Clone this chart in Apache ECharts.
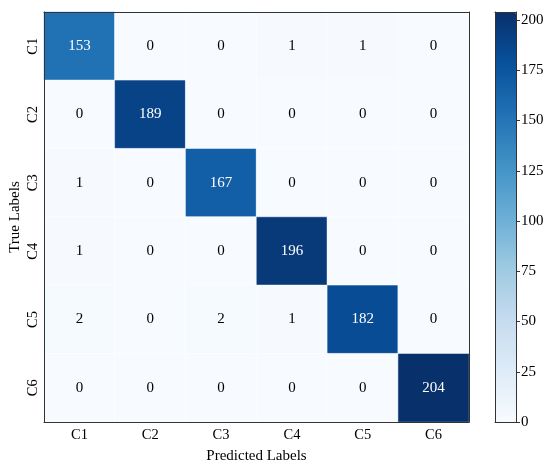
<!DOCTYPE html>
<html>
<head>
<meta charset="utf-8">
<script src="https://cdn.jsdelivr.net/npm/echarts@6/dist/echarts.min.js"></script>
<style>
  html, body { margin: 0; padding: 0; background: #fff; }
  #chart { width: 550px; height: 468px; }
</style>
</head>
<body>
<div id="chart"></div>
<script>
// rows = true label, columns = predicted label
const trueLabels = ['C1', 'C2', 'C3', 'C4', 'C5', 'C6'];
const predLabels = ['C1', 'C2', 'C3', 'C4', 'C5', 'C6'];
const matrix = [
    [153, 0, 0, 1, 1, 0],
    [0, 189, 0, 0, 0, 0],
    [1, 0, 167, 0, 0, 0],
    [1, 0, 0, 196, 0, 0],
    [2, 0, 2, 1, 182, 0],
    [0, 0, 0, 0, 0, 204]
];
const colorbarMax = 204;
const colorbarStep = 25;

// matplotlib "Blues"
const blues = ['#f7fbff', '#deebf7', '#c6dbef', '#9ecae1', '#6baed6',
               '#4292c6', '#2171b5', '#08519c', '#08306b'];
const font = 'Liberation Serif';
const edge = '#333';

var data = [];
for (var r = 0; r < matrix.length; r++) {
    for (var c = 0; c < matrix[r].length; c++) {
        var v = matrix[r][c];
        data.push({
            value: [c, r, v],
            label: { color: v > colorbarMax / 2 ? '#fff' : '#000' }
        });
    }
}

var frameAxis = function(type, gridIndex, position, extra) {
    return Object.assign({
        type: type,
        gridIndex: gridIndex,
        position: position,
        axisLine: { show: true, onZero: false, lineStyle: { color: edge } },
        axisTick: { show: false },
        axisLabel: { show: false },
        splitLine: { show: false },
        z: 20
    }, extra || {});
};

var myChart = echarts.init(document.getElementById('chart'));

var option = {
    animation: false,
    textStyle: { fontFamily: font },
    grid: [
        { left: 44, top: 12, width: 425, height: 410, outerBoundsMode: 'none' },
        { left: 495, top: 12, width: 21, height: 410, outerBoundsMode: 'none' }
    ],
    xAxis: [{
        type: 'category',
        data: predLabels,
        gridIndex: 0,
        position: 'bottom',
        name: 'Predicted Labels',
        nameLocation: 'middle',
        nameGap: 27,
        nameMoveOverlap: false,
        nameTextStyle: { fontFamily: font, fontSize: 15, color: '#000' },
        axisLine: { lineStyle: { color: edge } },
        axisTick: { alignWithLabel: true, length: 4, lineStyle: { color: edge } },
        axisLabel: { fontFamily: font, fontSize: 14.5, color: '#000', margin: 6 },
        splitLine: { show: false },
        z: 20
    },
    frameAxis('category', 0, 'top', { data: predLabels }),
    frameAxis('value', 1, 'bottom', { min: 0, max: 1 }),
    frameAxis('value', 1, 'top', { min: 0, max: 1 })
    ],
    yAxis: [{
        type: 'category',
        data: trueLabels,
        gridIndex: 0,
        inverse: true,
        name: 'True Labels',
        nameLocation: 'middle',
        nameRotate: 90,
        nameGap: 21,
        nameMoveOverlap: false,
        nameTextStyle: { fontFamily: font, fontSize: 15, color: '#000' },
        axisLine: { lineStyle: { color: edge } },
        axisTick: { alignWithLabel: true, length: 4, lineStyle: { color: edge } },
        axisLabel: { fontFamily: font, fontSize: 14.5, color: '#000', rotate: 90, margin: 3 },
        splitLine: { show: false },
        z: 20
    },
    frameAxis('category', 0, 'right', { data: trueLabels, inverse: true }),
    {
        type: 'value',
        gridIndex: 1,
        position: 'right',
        min: 0,
        max: colorbarMax,
        interval: colorbarStep,
        axisLine: { show: true, onZero: false, lineStyle: { color: edge } },
        axisTick: { show: true, length: 4, lineStyle: { color: edge } },
        axisLabel: { fontFamily: font, fontSize: 15, color: '#000', margin: 5, showMaxLabel: false },
        splitLine: { show: false },
        z: 20
    },
    frameAxis('value', 1, 'left', { min: 0, max: colorbarMax })
    ],
    visualMap: {
        type: 'continuous',
        min: 0,
        max: colorbarMax,
        seriesIndex: 0,
        calculable: false,
        orient: 'vertical',
        left: 495,
        top: 12,
        padding: 0,
        itemWidth: 21,
        itemHeight: 410,
        text: null,
        showLabel: false,
        hoverLink: false,
        inRange: { color: blues }
    },
    series: [{
        type: 'heatmap',
        xAxisIndex: 0,
        yAxisIndex: 0,
        data: data,
        label: { show: true, fontFamily: font, fontSize: 15 },
        itemStyle: { borderColor: '#fff', borderWidth: 0.5 },
        emphasis: { disabled: true }
    }]
};

myChart.setOption(option);
window.addEventListener('resize', function() {
    myChart.resize();
});
</script>
</body>
</html>
